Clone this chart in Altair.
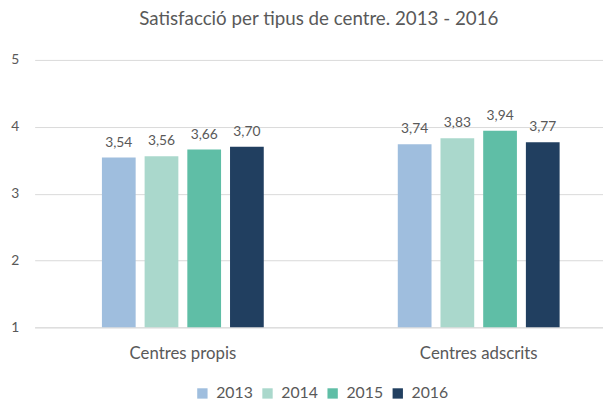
import altair as alt
import pandas as pd

categories = ["Centres propis", "Centres adscrits"]
years = ["2013", "2014", "2015", "2016"]
values_propis = [3.54, 3.56, 3.66, 3.70]
values_adscrits = [3.74, 3.83, 3.94, 3.77]
colors = ["#9FBEDE", "#AAD8CC", "#5FBEA6", "#213F60"]

rows = []
for cat, vals in zip(categories, [values_propis, values_adscrits]):
    for y, v in zip(years, vals):
        rows.append({"centre": cat, "any": y, "valor": v})
df = pd.DataFrame(rows)

FONT = "Lato"
GREY = "#595959"

x_enc = alt.X("centre:N", sort=categories, title=None,
              scale=alt.Scale(paddingInner=0.453, paddingOuter=0.187, align=0.608),
              axis=alt.Axis(labelAngle=0, labelFontSize=17, labelColor=GREY, labelFont=FONT,
                            ticks=False, domainColor="#d9d9d9", labelPadding=19))
xoff = alt.XOffset("any:N", sort=years, scale=alt.Scale(paddingInner=0.21, paddingOuter=0))
y_enc = alt.Y("valor:Q", title=None,
              scale=alt.Scale(domain=[1, 5], nice=False, zero=False),
              axis=alt.Axis(values=[1, 2, 3, 4, 5], format="d", labelFontSize=14, labelColor=GREY,
                            labelFont=FONT, ticks=False, domain=False, gridColor="#d9d9d9",
                            labelPadding=16))

base = alt.Chart(df)

bars = base.mark_bar().encode(
    x=x_enc, xOffset=xoff, y=y_enc, y2=alt.datum(1),
    color=alt.Color("any:N", sort=years, title=None,
                    scale=alt.Scale(domain=years, range=colors),
                    legend=alt.Legend(orient="none", direction="horizontal", columns=4,
                                      legendX=162, legendY=330, symbolType="square",
                                      symbolSize=110, symbolStrokeWidth=0,
                                      labelFontSize=16, labelColor=GREY, labelFont=FONT,
                                      columnPadding=6, labelOffset=6)),
)

labels = base.transform_calculate(
    lab="replace(format(datum.valor, '.2f'), '.', ',')"
).mark_text(baseline="bottom", dy=-8, fontSize=14, color=GREY, font=FONT).encode(
    x=alt.X("centre:N", sort=categories),
    xOffset=alt.XOffset("any:N", sort=years),
    y="valor:Q",
    text="lab:N",
)

chart = alt.layer(bars, labels).properties(
    width=576, height=271,
    autosize=alt.AutoSizeParams(type="none"),
    padding={"left": 27, "top": 50, "right": 0, "bottom": 72},
    title=alt.TitleParams("Satisfacció per tipus de centre. 2013 - 2016", fontSize=19,
                          font=FONT, color=GREY, fontWeight="normal", anchor="middle",
                          offset=24),
).configure_view(stroke=None)

chart.save("out.html", embed_options={"renderer": "svg", "actions": False})
